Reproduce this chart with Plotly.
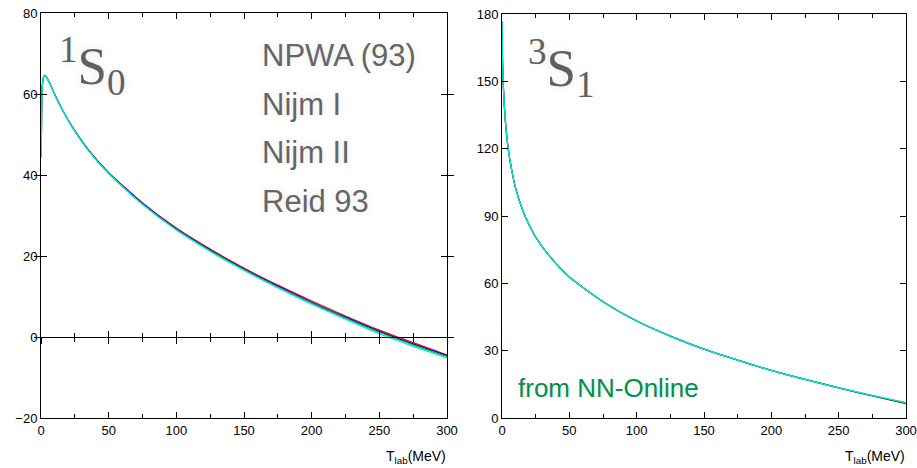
import plotly.graph_objects as go

W, H = 917, 468

# ---------------- data ----------------
# 1S0 phase shifts (deg) vs T_lab (MeV)
T_1S0 = [0.15, 0.5, 1, 2, 3, 5, 7.5, 10, 15, 20, 25, 35, 50, 75, 100, 125, 150, 175, 200, 225, 250, 275, 300]
S0_npwa = [44.4, 57.0, 62.1, 64.3, 64.6, 63.6, 61.9, 60.0, 56.6, 53.6, 50.9, 46.2, 40.6, 33.1, 26.9, 21.7, 17.0, 12.8, 8.9, 5.2, 1.7, -1.4, -4.4]
S0_nijm1 = [44.4, 57.0, 62.1, 64.3, 64.6, 63.6, 61.9, 60.0, 56.6, 53.6, 50.9, 46.2, 40.5, 33.0, 26.7, 21.5, 16.8, 12.6, 8.6, 4.9, 1.4, -1.7, -4.6]
S0_nijm2 = [44.4, 57.0, 62.1, 64.3, 64.6, 63.6, 61.9, 60.0, 56.6, 53.6, 50.85, 46.1, 40.4, 32.8, 26.5, 21.3, 16.6, 12.3, 8.3, 4.6, 1.1, -2.0, -4.9]
S0_reid = [44.4, 57.0, 62.1, 64.3, 64.6, 63.6, 61.9, 60.0, 56.6, 53.6, 50.8, 46.0, 40.3, 32.7, 26.4, 21.1, 16.4, 12.1, 8.1, 4.4, 0.8, -2.3, -5.1]

# 3S1 phase shifts (deg) vs T_lab (MeV)
T_3S1 = [0.01, 0.1, 0.5, 1, 2, 3, 5, 7.5, 10, 15, 20, 25, 35, 50, 75, 100, 125, 150, 175, 200, 225, 250, 275, 300]
S1_npwa = [176.6, 169.3, 156.6, 147.7, 136.5, 128.8, 118.2, 109.6, 102.6, 93.1, 86.2, 80.6, 72.3, 62.8, 51.8, 43.2, 36.5, 30.7, 25.8, 21.2, 17.2, 13.4, 9.8, 6.4]
S1_nijm1 = [176.6, 169.3, 156.6, 147.7, 136.5, 128.8, 118.2, 109.6, 102.6, 93.1, 86.2, 80.6, 72.3, 62.8, 51.8, 43.2, 36.5, 30.7, 25.8, 21.2, 17.2, 13.4, 9.9, 6.6]
S1_nijm2 = [176.6, 169.3, 156.6, 147.7, 136.5, 128.8, 118.2, 109.6, 102.6, 93.1, 86.2, 80.6, 72.3, 62.8, 51.8, 43.2, 36.5, 30.7, 25.8, 21.2, 17.2, 13.4, 10.0, 6.7]
S1_reid = [176.6, 169.3, 156.6, 147.7, 136.5, 128.8, 118.2, 109.6, 102.6, 93.1, 86.2, 80.6, 72.3, 62.8, 51.8, 43.2, 36.5, 30.7, 25.8, 21.2, 17.2, 13.4, 10.1, 6.9]

models = ["NPWA (93)", "Nijm I", "Nijm II", "Reid 93"]
colors = ["#ff0000", "#0000ff", "#00d000", "#00e8e8"]

x_range = [0, 300]
y1_range = [-20, 80]
y2_range = [0, 180]
y1_ticks = [-20, 0, 20, 40, 60, 80]
y2_ticks = [0, 30, 60, 90, 120, 150, 180]

# --------------- layout helpers ---------------
def PX(p):
    return p / W

def PY(p):
    return 1 - p / H

dom_x1 = [PX(41), PX(447)]
dom_x2 = [PX(502), PX(906)]
dom_y1 = [PY(418), PY(13)]
dom_y2 = [PY(418), PY(14)]

fig = go.Figure()

for name, col, ys in zip(models, colors, [S0_npwa, S0_nijm1, S0_nijm2, S0_reid]):
    fig.add_trace(go.Scatter(x=T_1S0, y=ys, mode="lines", name=name,
                             line=dict(color=col, width=1.2, shape="spline", smoothing=0.6),
                             xaxis="x", yaxis="y", showlegend=False))
for name, col, ys in zip(models, colors, [S1_npwa, S1_nijm1, S1_nijm2, S1_reid]):
    fig.add_trace(go.Scatter(x=T_3S1, y=ys, mode="lines", name=name,
                             line=dict(color=col, width=1.2, shape="spline", smoothing=0.6),
                             xaxis="x2", yaxis="y2", showlegend=False))

# invisible traces so the zero-line tick axes are drawn
for ax in ["x3", "x4"]:
    fig.add_trace(go.Scatter(x=T_1S0, y=S0_npwa, mode="lines", xaxis=ax, yaxis="y",
                             line=dict(width=0, color="rgba(0,0,0,0)"), hoverinfo="skip",
                             showlegend=False))

tickfont = dict(family="Liberation Sans, Arial, sans-serif", size=13, color="#000")

def xaxis_common(domain, anchor):
    return dict(domain=domain, anchor=anchor, range=x_range, dtick=50, tick0=0,
                ticks="inside", ticklen=6, tickwidth=1, tickcolor="#000",
                minor=dict(dtick=25, tick0=0, ticks="inside", ticklen=4, tickcolor="#000", showgrid=False),
                showline=True, linecolor="#000", linewidth=1, mirror="allticks",
                showgrid=False, zeroline=False, tickfont=tickfont, automargin=False,
                fixedrange=True)

def yaxis_common(domain, anchor, rng, tv):
    return dict(domain=domain, anchor=anchor, range=rng, tickvals=tv,
                ticks="inside", ticklen=6, tickwidth=1, tickcolor="#000",
                showline=True, linecolor="#000", linewidth=1, mirror="allticks",
                showgrid=False, tickfont=tickfont, automargin=False, fixedrange=True)

zero_pos = dom_y1[0] + (0 - y1_range[0]) / (y1_range[1] - y1_range[0]) * (dom_y1[1] - dom_y1[0])

def zero_axis(direction):
    return dict(overlaying="x", anchor="free", position=zero_pos, side="bottom",
                range=x_range, dtick=50, tick0=0, ticks=direction, ticklen=6,
                tickwidth=1, tickcolor="#000",
                minor=dict(dtick=25, tick0=0, ticks=direction, ticklen=4, tickcolor="#000", showgrid=False),
                showline=True, linecolor="#000", linewidth=1, showticklabels=False,
                showgrid=False, zeroline=False, automargin=False, fixedrange=True)

fig.update_layout(
    width=W, height=H,
    margin=dict(l=0, r=0, t=0, b=0),
    paper_bgcolor="white", plot_bgcolor="white",
    xaxis=xaxis_common(dom_x1, "y"),
    yaxis=dict(yaxis_common(dom_y1, "x", y1_range, y1_ticks), zeroline=False),
    xaxis2=xaxis_common(dom_x2, "y2"),
    yaxis2=dict(yaxis_common(dom_y2, "x2", y2_range, y2_ticks), zeroline=False),
    xaxis3=zero_axis("inside"),
    xaxis4=zero_axis("outside"),
    showlegend=False,
)

serif = "Liberation Serif, Times New Roman, serif"
sans = "Liberation Sans, Arial, sans-serif"
glow = "0px 0px 10px rgba(0,0,0,0.10)"
gray = "#606060"

annots = []

def add_text(text, xpx, ypx, size, family, color, xanchor="center", shadow=glow):
    annots.append(dict(text=text, x=PX(xpx), y=PY(ypx), xref="paper", yref="paper",
                       xanchor=xanchor, yanchor="middle", showarrow=False, borderpad=0,
                       font=dict(size=size, family=family, color=color, shadow=shadow)))

# wave labels (one text each, with super- and subscript)
add_text("<sup>1</sup>S<sub>0</sub>", 58, 66, 53, serif, gray, xanchor="left")
add_text("<sup>3</sup>S<sub>1</sub>", 527, 68, 53, serif, gray, xanchor="left")

# model names
for name, yc in zip(models, [55, 104, 153, 201]):
    add_text(name, 261, yc, 31, sans, "#666666", xanchor="left")

add_text("from NN-Online", 517, 388, 26, sans, "#00904a", xanchor="left")

# axis titles
add_text("T<sub>lab</sub>(MeV)", 447, 457, 14, sans, "#000", xanchor="right", shadow="none")
add_text("T<sub>lab</sub>(MeV)", 906, 457, 14, sans, "#000", xanchor="right", shadow="none")

fig.update_layout(annotations=annots)

fig.write_html("out.html")
